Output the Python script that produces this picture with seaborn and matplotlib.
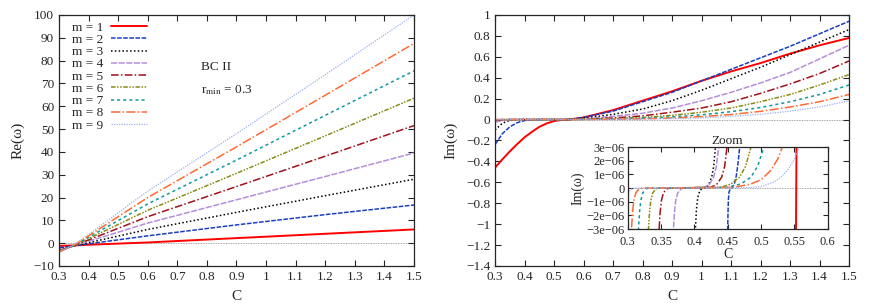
import numpy as np
import pandas as pd
import seaborn as sns
import matplotlib
matplotlib.use("Agg")
import matplotlib.pyplot as plt

### valores leidos a ojo de la figura
C_re = [0.30, 0.35, 0.40, 0.60, 0.90, 1.20, 1.50]
re_m = {
    1: [-1.2, -1.0, -0.7, 0.3, 2.2, 4.1, 6.0],
    2: [-2.0, -1.2, -0.3, 3.2, 8.0, 12.5, 16.7],
    3: [-2.6, -1.2, 0.2, 6.0, 13.5, 20.8, 28.0],
    4: [-3.0, -1.2, 0.8, 8.8, 19.0, 29.2, 39.5],
    5: [-3.3, -1.2, 1.4, 11.6, 24.8, 38.1, 51.5],
    6: [-3.5, -1.1, 2.0, 14.4, 30.6, 47.0, 63.5],
    7: [-3.7, -1.0, 2.6, 17.2, 36.4, 56.0, 75.5],
    8: [-3.9, -0.9, 3.2, 20.0, 42.2, 64.8, 87.5],
    9: [-4.0, -0.8, 3.8, 22.8, 48.0, 73.8, 100.0],
}

C_im = [0.30, 0.325, 0.35, 0.375, 0.40, 0.425, 0.45, 0.475, 0.50, 0.525, 0.55, 0.60,
        0.70, 0.80, 0.90, 1.00, 1.10, 1.20, 1.30, 1.40, 1.50]
im_m = {
    1: [-0.46, -0.38, -0.305, -0.235, -0.17, -0.118, -0.07, -0.037, -0.015, -0.004, 0.0, 0.02,
        0.09, 0.18, 0.27, 0.37, 0.46, 0.54, 0.63, 0.71, 0.78],
    2: [-0.24, -0.135, -0.07, -0.03, -0.01, -0.002, 0.0, 0.0, 0.0, 0.0, 0.0, 0.02,
        0.08, 0.17, 0.26, 0.37, 0.48, 0.59, 0.70, 0.82, 0.94],
    3: [-0.10, -0.035, -0.008, -0.001, 0.0, 0.0, 0.0, 0.0, 0.0, 0.0, 0.0, 0.012,
        0.05, 0.10, 0.18, 0.28, 0.39, 0.50, 0.62, 0.74, 0.86],
    4: [-0.025, -0.008, -0.002, 0.0, 0.0, 0.0, 0.0, 0.0, 0.0, 0.0, 0.0, 0.006,
        0.03, 0.06, 0.11, 0.18, 0.26, 0.35, 0.45, 0.58, 0.71],
    5: [-0.008, -0.002, 0.0, 0.0, 0.0, 0.0, 0.0, 0.0, 0.0, 0.0, 0.0, 0.003,
        0.015, 0.035, 0.07, 0.11, 0.17, 0.25, 0.34, 0.44, 0.56],
    6: [-0.003, 0.0, 0.0, 0.0, 0.0, 0.0, 0.0, 0.0, 0.0, 0.0, 0.0, 0.002,
        0.008, 0.02, 0.04, 0.07, 0.11, 0.17, 0.24, 0.33, 0.43],
    7: [-0.001, 0.0, 0.0, 0.0, 0.0, 0.0, 0.0, 0.0, 0.0, 0.0, 0.0, 0.001,
        0.005, 0.012, 0.025, 0.045, 0.075, 0.115, 0.17, 0.24, 0.33],
    8: [0.0, 0.0, 0.0, 0.0, 0.0, 0.0, 0.0, 0.0, 0.0, 0.0, 0.0, 0.0,
        0.003, 0.007, 0.015, 0.028, 0.048, 0.078, 0.12, 0.17, 0.24],
    9: [0.0, 0.0, 0.0, 0.0, 0.0, 0.0, 0.0, 0.0, 0.0, 0.0, 0.0, 0.0,
        0.001, 0.004, 0.008, 0.016, 0.03, 0.05, 0.08, 0.12, 0.18],
}

### zoom (Im en unidades de 1e-6)
zoom_C = {
    1: [0.5525, 0.5530, 0.5535],
    2: [0.4495, 0.4500, 0.4505, 0.4510, 0.4520, 0.4540, 0.4570, 0.4600, 0.4630, 0.4660, 0.4680, 0.4700],
    3: [0.4010, 0.4015, 0.4030, 0.4050, 0.4080, 0.4120, 0.4180, 0.4220, 0.4260, 0.4290, 0.4316, 0.4330],
    4: [0.3680, 0.3685, 0.3700, 0.3720, 0.3750, 0.3800, 0.3860, 0.4150, 0.4230, 0.4290, 0.4330, 0.4365, 0.4380],
    5: [0.3465, 0.3470, 0.3485, 0.3505, 0.3535, 0.3585, 0.3645, 0.4250, 0.4340, 0.4410, 0.4455, 0.4490, 0.4510],
    6: [0.3305, 0.3310, 0.3325, 0.3345, 0.3375, 0.3425, 0.3485, 0.4400, 0.4550, 0.4680, 0.4770, 0.4850, 0.4880],
    7: [0.3155, 0.3160, 0.3175, 0.3195, 0.3225, 0.3275, 0.3335, 0.4500, 0.4700, 0.4850, 0.4950, 0.5045, 0.5080],
    8: [0.3050, 0.3055, 0.3070, 0.3090, 0.3120, 0.3170, 0.3230, 0.4600, 0.4850, 0.5000, 0.5150, 0.5250, 0.5320, 0.5360],
    9: [0.2990, 0.3000, 0.3020, 0.3060, 0.3120, 0.4800, 0.5000, 0.5200, 0.5300, 0.5400, 0.5500, 0.5580, 0.5650],
}
zoom_im = {
    1: [-4.0, 0.0, 4.0],
    2: [-4.0, -3.0, -1.8, -0.9, -0.3, -0.03, 0.05, 0.3, 0.9, 2.0, 3.0, 4.0],
    3: [-4.0, -3.0, -1.6, -0.7, -0.2, 0.0, 0.05, 0.3, 0.8, 1.6, 3.0, 4.0],
    4: [-4.0, -3.0, -1.8, -0.9, -0.35, -0.05, 0.0, 0.05, 0.3, 0.8, 1.6, 3.0, 4.0],
    5: [-4.0, -3.0, -1.8, -0.9, -0.35, -0.05, 0.0, 0.05, 0.3, 0.8, 1.6, 3.0, 4.0],
    6: [-4.0, -3.0, -1.8, -0.9, -0.35, -0.05, 0.0, 0.05, 0.3, 0.8, 1.6, 3.0, 4.0],
    7: [-4.0, -3.0, -1.8, -0.9, -0.35, -0.05, 0.0, 0.05, 0.3, 0.8, 1.6, 3.0, 4.0],
    8: [-4.0, -3.0, -1.8, -0.9, -0.35, -0.05, 0.0, 0.05, 0.3, 0.6, 1.3, 2.1, 3.0, 4.0],
    9: [-1.5, -0.6, -0.25, -0.06, 0.0, 0.02, 0.1, 0.45, 0.8, 1.3, 2.1, 3.0, 4.0],
}

colores = {1: "#ff0000", 2: "#1a3fbf", 3: "#000000", 4: "#b48fd8", 5: "#a0101a",
           6: "#8a8a1a", 7: "#109a9a", 8: "#ff6a33", 9: "#9fb0f0"}
estilos = {1: "-", 2: (0, (3, 1)), 3: (0, (1, 1.5)), 4: (0, (4, 1)), 5: (0, (5, 1.5, 1, 1.5)),
           6: (0, (3, 1, 1, 1, 1, 1)), 7: (0, (2, 2)), 8: (0, (6, 1.5, 1, 1.5)), 9: (0, (1, 1))}
anchos = {1: 1.4, 2: 1.1, 3: 1.1, 4: 1.1, 5: 1.1, 6: 1.1, 7: 1.1, 8: 1.1, 9: 0.9}

sns.set_theme(style="ticks")
plt.rcParams['font.family'] = ['Liberation Serif', 'DejaVu Serif']
plt.rcParams['mathtext.fontset'] = 'stix'
plt.rcParams['xtick.direction'] = 'in'
plt.rcParams['ytick.direction'] = 'in'
plt.rcParams['xtick.top'] = True
plt.rcParams['ytick.right'] = True
plt.rcParams['axes.linewidth'] = 0.9
plt.rcParams['font.size'] = 9

fig = plt.figure(figsize=(8.72, 3.05), dpi=100)
ax1 = fig.add_axes([0.0677, 0.128, 0.407, 0.823])
ax2 = fig.add_axes([0.5677, 0.128, 0.406, 0.823])
ax3 = fig.add_axes([0.720, 0.249, 0.229, 0.269])

for m in range(1, 10):
    df = pd.DataFrame({"C": C_re, "v": re_m[m]})
    sns.lineplot(data=df, x="C", y="v", ax=ax1, color=colores[m], linestyle=estilos[m],
                 linewidth=anchos[m], label="m = %d" % m)
    df = pd.DataFrame({"C": C_im, "v": im_m[m]})
    sns.lineplot(data=df, x="C", y="v", ax=ax2, color=colores[m], linestyle=estilos[m],
                 linewidth=anchos[m], legend=False)
    df = pd.DataFrame({"C": zoom_C[m], "v": np.array(zoom_im[m]) * 1e-6})
    sns.lineplot(data=df, x="C", y="v", ax=ax3, color=colores[m], linestyle=estilos[m],
                 linewidth=anchos[m], legend=False, sort=False)

for ax in (ax1, ax2, ax3):
    ax.axhline(0, color="#888888", linewidth=0.6, linestyle=(0, (1, 1)), zorder=0)
    ax.tick_params(labelsize=9.5, length=4, width=0.8)

etiq_x = ["0.3", "0.4", "0.5", "0.6", "0.7", "0.8", "0.9", "1", "1.1", "1.2", "1.3", "1.4", "1.5"]

ax1.set_xlim(0.3, 1.5)
ax1.set_ylim(-10, 100)
ax1.set_xticks(np.arange(0.3, 1.51, 0.1))
ax1.set_xticklabels(etiq_x)
ax1.set_yticks(range(-10, 101, 10))
ax1.set_yticklabels(["\u221210"] + [str(v) for v in range(0, 101, 10)])
ax1.set_xlabel("C", fontsize=11, labelpad=5)
ax1.set_ylabel("Re(ω)", fontsize=11, labelpad=6)
ax1.legend(loc="upper left", markerfirst=False, frameon=False, handlelength=2.7,
           handletextpad=0.6, fontsize=9.5, labelspacing=0.0,
           bbox_to_anchor=(0.022, 0.995), borderaxespad=0.0)
ax1.text(0.78, 76, "BC II", fontsize=9.5)
ax1.text(0.78, 65.5, r"r$_{\rm min}$ = 0.3", fontsize=9.5)

ax2.set_xlim(0.3, 1.5)
ax2.set_ylim(-1.4, 1.0)
ax2.set_xticks(np.arange(0.3, 1.51, 0.1))
ax2.set_xticklabels(etiq_x)
ax2.set_yticks(np.arange(-1.4, 1.01, 0.2))
ax2.set_yticklabels(["\u22121.4", "\u22121.2", "\u22121", "\u22120.8", "\u22120.6", "\u22120.4", "\u22120.2",
                     "0", "0.2", "0.4", "0.6", "0.8", "1"])
ax2.set_xlabel("C", fontsize=11, labelpad=5)
ax2.set_ylabel("Im(ω)", fontsize=11, labelpad=6)

ax3.set_xlim(0.3, 0.6)
ax3.set_ylim(-3e-6, 3e-6)
ax3.set_xticks([0.3, 0.35, 0.4, 0.45, 0.5, 0.55, 0.6])
ax3.set_xticklabels(["0.3", "0.35", "0.4", "0.45", "0.5", "0.55", "0.6"])
ax3.set_yticks(np.arange(-3e-6, 3.1e-6, 1e-6))
ax3.set_yticklabels(["\u22123e\u221206", "\u22122e\u221206", "\u22121e\u221206", "0", "1e\u221206", "2e\u221206", "3e\u221206"])
ax3.tick_params(labelsize=9, length=3.5)
ax3.tick_params(axis="x", pad=5)
ax3.tick_params(axis="y", pad=2)
ax3.set_xlabel("C", fontsize=10, labelpad=0)
ax3.set_ylabel("Im(ω)", fontsize=10, labelpad=2)
ax3.set_title("Zoom", fontsize=9.5, pad=2)

fig.savefig("out.png", dpi=100)
